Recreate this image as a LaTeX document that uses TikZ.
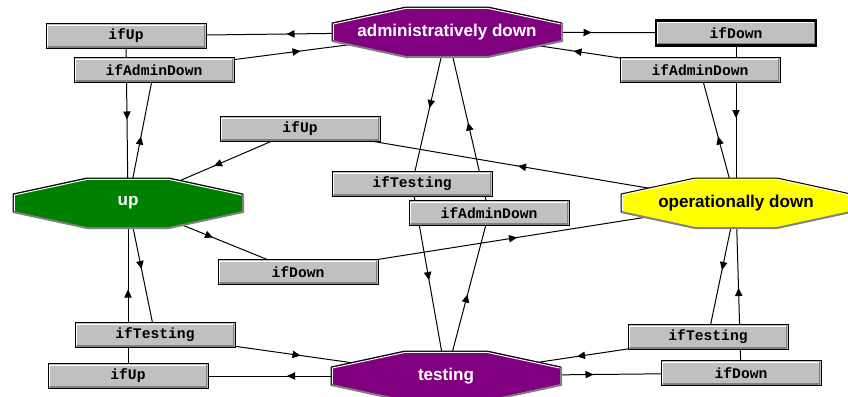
\documentclass[tikz,border=0pt]{standalone}
\usepackage{fontspec}
\setmainfont{Liberation Sans}
\newfontfamily\eventfont{Liberation Mono}
\usetikzlibrary{arrows.meta,decorations.markings}
\definecolor{boxgray}{RGB}{192,192,192}
\definecolor{shadegray}{RGB}{128,128,128}
\definecolor{adminpurple}{RGB}{128,0,128}
\definecolor{upgreen}{RGB}{0,128,0}
\definecolor{downyellow}{RGB}{255,255,0}
\pgfdeclarelayer{edges}
\pgfdeclarelayer{shapes}
\pgfsetlayers{edges,shapes,main}
\newcommand\stateshape[2]{%
 \begin{scope}[shift={(#1.center)}]
 \fill[#2] (-115,-9) -- (-41,-25) -- (41,-25) -- (115,-9) -- (115,9) -- (41,25) -- (-41,25) -- (-115,9) -- cycle;
 \draw[shadegray,line width=1.5pt] (115,-9) -- (115,9) -- (41,25) -- (-41,25) -- (-115,9);
 \draw[white,line width=0.75pt] (-113.6,8) -- (-113.6,-8) -- (-41,-23.6) -- (41,-23.6) -- (113.6,-8);
 \draw[black,line width=0.75pt] (-115,9) -- (-115,-9) -- (-41,-25) -- (41,-25) -- (115,-9);
 \end{scope}}
\begin{document}
\begin{tikzpicture}[x=0.75pt,y=-0.75pt,
 state/.style={inner sep=0pt,font=\fontsize{12.8}{15}\selectfont\bfseries},
 event/.style={minimum width=120pt,minimum height=18.75pt,inner sep=0pt,draw=black,line width=0.75pt,fill=boxgray,
  font=\eventfont\fontsize{11}{13}\selectfont\bfseries,
  path picture={
   \draw[white,line width=0.9pt] ([shift={(1.2pt,1.6pt)}]path picture bounding box.south west) |- ([shift={(-1.6pt,-1.2pt)}]path picture bounding box.north east);
   \draw[shadegray,line width=1.2pt] ([shift={(1.2pt,1.2pt)}]path picture bounding box.south west) -| ([shift={(-1.2pt,-1.2pt)}]path picture bounding box.north east);}},
 flow/.style={line width=0.75pt,postaction={decorate},
  decoration={markings,mark=at position 0.5 with {\arrow{Triangle[length=6pt,width=5.5pt]}}}}]
\useasboundingbox (0,0) rectangle (848,396);
\node[state,text=white] (admin) at (447,32) {administratively down};
\node[state,text=white] (up) at (128,203) {up};
\node[state,text=black] (opdown) at (736,203) {operationally down};
\node[state,text=white] (testing) at (446,376) {testing};
\node[event] (upA) at (126,36) {ifUp};
\node[event] (admA) at (154,70) {ifAdminDown};
\node[event,line width=1.6pt] (downA) at (736,33) {ifDown};
\node[event] (admB) at (700,70) {ifAdminDown};
\node[event] (upB) at (300,129) {ifUp};
\node[event] (testA) at (412,184) {ifTesting};
\node[event] (admC) at (489,213) {ifAdminDown};
\node[event] (downB) at (298,272) {ifDown};
\node[event] (testB) at (155,335) {ifTesting};
\node[event] (upC) at (128,376) {ifUp};
\node[event] (testC) at (708,337) {ifTesting};
\node[event] (downC) at (741,373) {ifDown};
\begin{pgfonlayer}{shapes}
\stateshape{admin}{adminpurple}
\stateshape{up}{upgreen}
\stateshape{opdown}{downyellow}
\stateshape{testing}{adminpurple}
\end{pgfonlayer}
\begin{pgfonlayer}{edges}
\draw[flow] (admin.center) -- (upA.center);
\draw[flow] (upA.center) -- (up.center);
\draw[flow] (up.center) -- (admA.center);
\draw[flow] (admA.center) -- (admin.center);
\draw[flow] (admin.center) -- (downA.center);
\draw[flow] (downA.center) -- (opdown.center);
\draw[flow] (opdown.center) -- (admB.center);
\draw[flow] (admB.center) -- (admin.center);
\draw[flow] (admin.center) -- (testA.center);
\draw[flow] (testA.center) -- (testing.center);
\draw[flow] (testing.center) -- (admC.center);
\draw[flow] (admC.center) -- (admin.center);
\draw[flow] (up.center) -- (downB.center);
\draw[flow] (downB.center) -- (opdown.center);
\draw[flow] (opdown.center) -- (upB.center);
\draw[flow] (upB.center) -- (up.center);
\draw[flow] (up.center) -- (testB.center);
\draw[flow] (testB.center) -- (testing.center);
\draw[flow] (testing.center) -- (upC.center);
\draw[flow] (upC.center) -- (up.center);
\draw[flow] (testing.center) -- (downC.center);
\draw[flow] (downC.center) -- (opdown.center);
\draw[flow] (opdown.center) -- (testC.center);
\draw[flow] (testC.center) -- (testing.center);
\end{pgfonlayer}
\end{tikzpicture}
\end{document}
